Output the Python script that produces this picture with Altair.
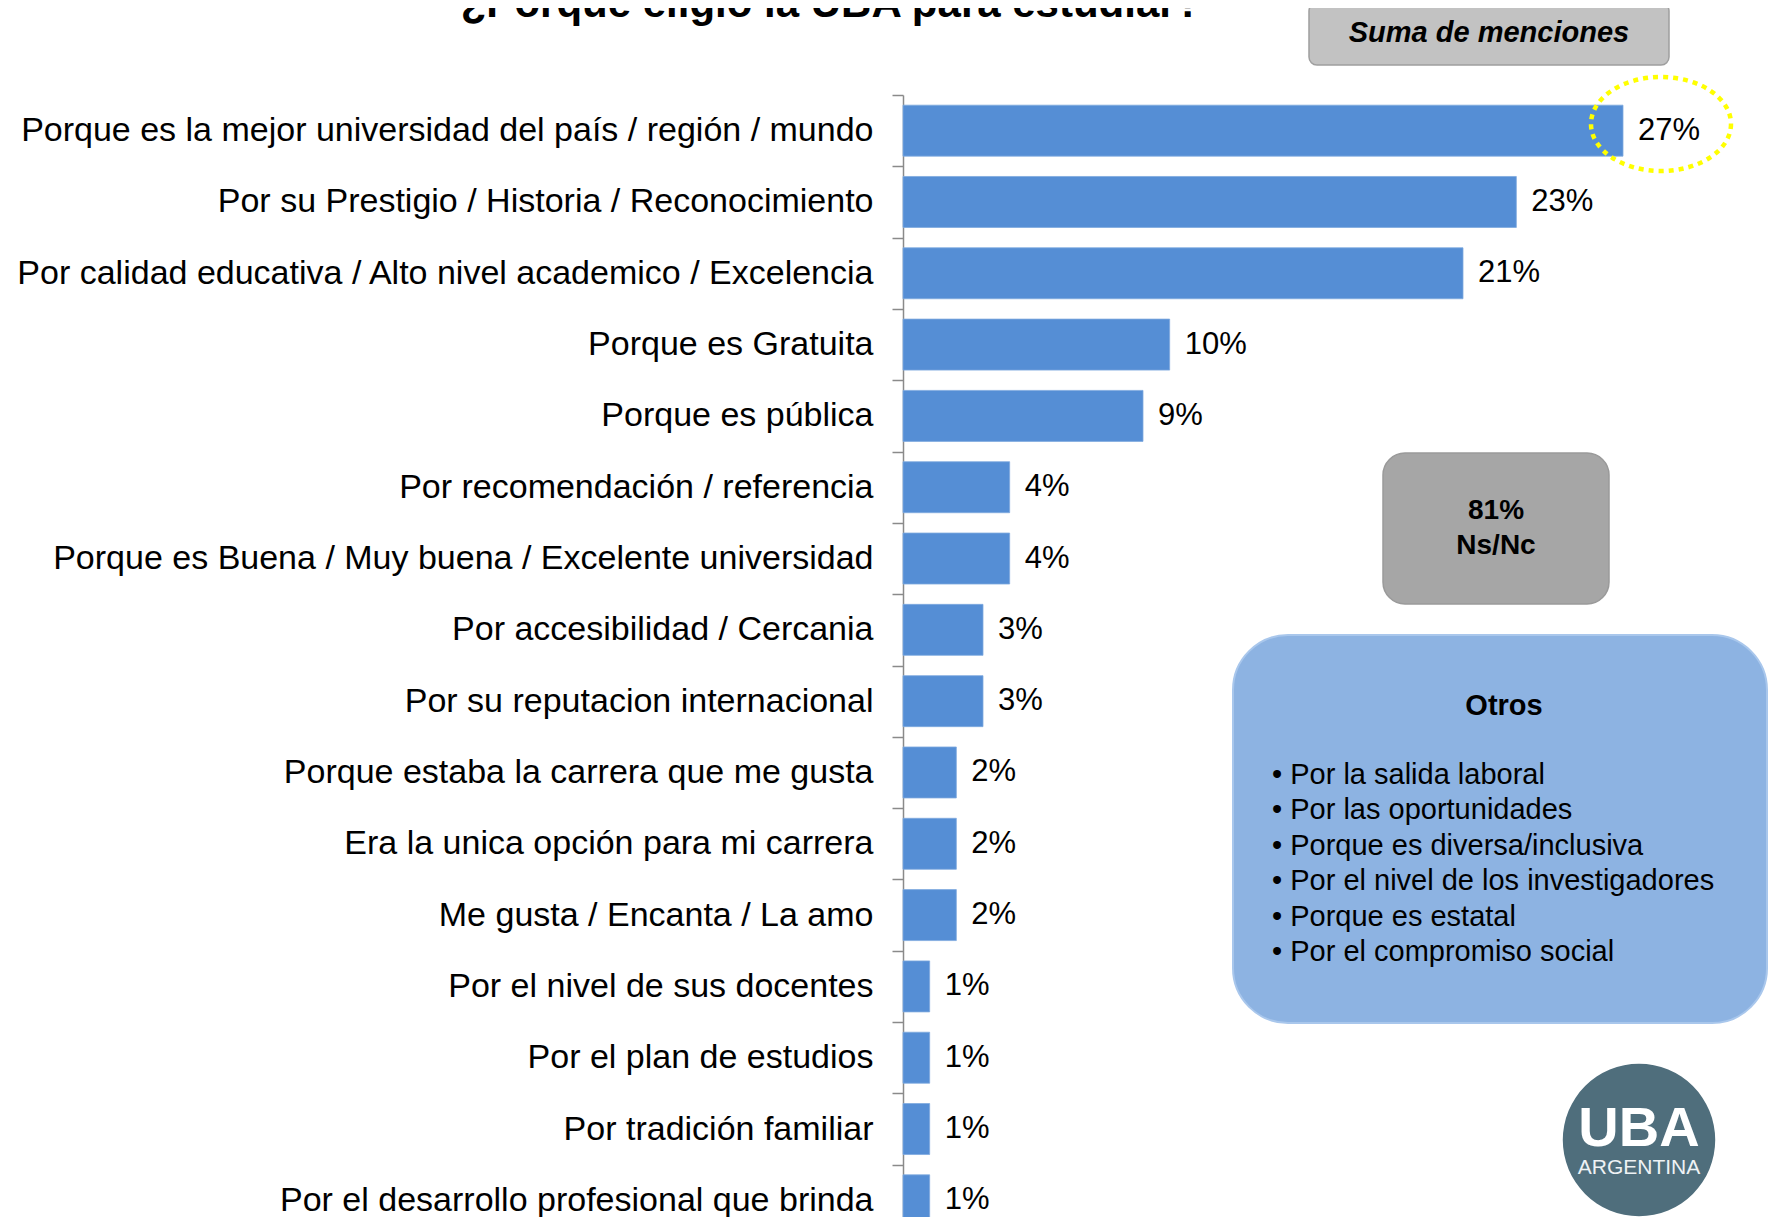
import altair as alt
import pandas as pd

categories = [
    "Porque es la mejor universidad del país / región / mundo",
    "Por su Prestigio / Historia / Reconocimiento",
    "Por calidad educativa / Alto nivel academico / Excelencia",
    "Porque es Gratuita",
    "Porque es pública",
    "Por recomendación / referencia",
    "Porque es Buena / Muy buena / Excelente universidad",
    "Por accesibilidad / Cercania",
    "Por su reputacion internacional",
    "Porque estaba la carrera que me gusta",
    "Era la unica opción para mi carrera",
    "Me gusta / Encanta / La amo",
    "Por el nivel de sus docentes",
    "Por el plan de estudios",
    "Por tradición familiar",
    "Por el desarrollo profesional que brinda",
]
values = [27, 23, 21, 10, 9, 4, 4, 3, 3, 2, 2, 2, 1, 1, 1, 1]

title_text = "¿Porque eligio la UBA para estudiar?"
badge_text = "Suma de menciones"
nsnc_lines = ["81%", "Ns/Nc"]
otros_title = "Otros"
otros_items = [
    "Por la salida laboral",
    "Por las oportunidades",
    "Porque es diversa/inclusiva",
    "Por el nivel de los investigadores",
    "Porque es estatal",
    "Por el compromiso social",
]

df = pd.DataFrame({"cat": categories, "value": values})
one = alt.Data(values=[{"k": 1}])

FONT = "Liberation Sans"
BAR = "#558ED5"
STEP = 1141 / 16

base = alt.Chart(df).transform_calculate(label="datum.value + '%'")

y_axis = alt.Axis(
    title=None,
    labelFont=FONT,
    labelFontSize=34,
    labelColor="#000000",
    labelPadding=19,
    labelLimit=0,
    tickOffset=-STEP / 2,
    labelOffset=STEP / 2,
    tickSize=11,
    tickColor="#8a8a8a",
    tickWidth=1.5,
    domainColor="#8a8a8a",
    domainWidth=1.5,
    grid=False,
)
y_scale = alt.Scale(range=[0, 1141], paddingInner=0.285, paddingOuter=0.1425)
x_scale = alt.Scale(domain=[0, 32.475], nice=False, zero=True)

bars = base.mark_bar(color=BAR, stroke="#7fa9de", strokeWidth=0.8).encode(
    y=alt.Y("cat:N", sort=categories, scale=y_scale, axis=y_axis),
    x=alt.X("value:Q", scale=x_scale, axis=None),
)
labels = base.mark_text(
    align="left", baseline="middle", dx=15, font=FONT, fontSize=31, color="#000000"
).encode(
    y=alt.Y("cat:N", sort=categories, scale=y_scale, axis=y_axis),
    x=alt.X("value:Q", scale=x_scale, axis=None),
    text="label:N",
)

# decorations (pixel positions relative to plot origin)
title = alt.Chart(one).mark_text(
    text=title_text, font=FONT, fontSize=42, fontWeight="bold", align="center",
    baseline="alphabetic", color="#000000",
).encode(x=alt.value(-72), y=alt.value(-78))

badge = alt.Chart(one).mark_rect(
    fill="#c2c2c2", stroke="#9f9f9f", strokeWidth=1.5, cornerRadius=8
).encode(x=alt.value(406), x2=alt.value(766), y=alt.value(-92), y2=alt.value(-30))
badge_t = alt.Chart(one).mark_text(
    text=badge_text, font=FONT, fontSize=29, fontWeight="bold", fontStyle="italic",
    align="center", baseline="middle", color="#000000",
).encode(x=alt.value(586), y=alt.value(-62))

k = 47 / 70
c = 0.5523
ell = (
    f"M 1 0 C 1 {c*k:.4f} {c:.4f} {k:.4f} 0 {k:.4f} "
    f"C {-c:.4f} {k:.4f} -1 {c*k:.4f} -1 0 "
    f"C -1 {-c*k:.4f} {-c:.4f} {-k:.4f} 0 {-k:.4f} "
    f"C {c:.4f} {-k:.4f} 1 {-c*k:.4f} 1 0 Z"
)
ellipse = alt.Chart(one).mark_point(
    shape=ell, size=140 * 140, filled=False, stroke="#ffff00", strokeWidth=4.5,
    strokeDash=[5, 5], opacity=1,
).encode(x=alt.value(758), y=alt.value(29))

nsnc_box = alt.Chart(one).mark_rect(
    fill="#a6a6a6", stroke="#9a9a9a", strokeWidth=1.5, cornerRadius=22
).encode(x=alt.value(480), x2=alt.value(706), y=alt.value(358), y2=alt.value(509))
nsnc_t = alt.Chart(one).mark_text(
    text="\n".join(nsnc_lines), lineBreak="\n", lineHeight=35, font=FONT, fontSize=28,
    fontWeight="bold", align="center", baseline="middle", color="#000000",
).encode(x=alt.value(593), y=alt.value(416))

otros_box = alt.Chart(one).mark_rect(
    fill="#8db3e2", stroke="#a9c7ec", strokeWidth=2, cornerRadius=55
).encode(x=alt.value(330), x2=alt.value(864), y=alt.value(540), y2=alt.value(928))
otros_t = alt.Chart(one).mark_text(
    text=otros_title, font=FONT, fontSize=29, fontWeight="bold", align="center",
    baseline="middle", color="#000000",
).encode(x=alt.value(601), y=alt.value(611))
otros_list = alt.Chart(one).mark_text(
    text="\n".join("• " + s for s in otros_items), lineBreak="\n", lineHeight=35.4,
    font=FONT, fontSize=29, align="left", baseline="middle", color="#000000",
).encode(x=alt.value(369), y=alt.value(680))

logo = alt.Chart(one).mark_point(
    shape="circle", size=23235, filled=True, fill="#4f6e7c", opacity=1, strokeWidth=0,
).encode(x=alt.value(736), y=alt.value(1045))
logo_t1 = alt.Chart(one).mark_text(
    text="UBA", font=FONT, fontSize=56, fontWeight="bold", align="center",
    baseline="middle", color="#ffffff",
).encode(x=alt.value(736), y=alt.value(1034))
logo_t2 = alt.Chart(one).mark_text(
    text="ARGENTINA", font=FONT, fontSize=21, align="center",
    baseline="middle", color="#eef2f4",
).encode(x=alt.value(736), y=alt.value(1073))

chart = alt.layer(
    bars, labels, title, badge, badge_t, ellipse, nsnc_box, nsnc_t,
    otros_box, otros_t, otros_list, logo, logo_t1, logo_t2,
).properties(
    width=866, height=1122,
    autosize=alt.AutoSizeParams(type="none"),
    padding={"left": 895, "top": 87, "right": 0, "bottom": 0},
).configure(background="#ffffff").configure_view(strokeWidth=0, stroke="transparent")

chart.save("out.html", embed_options={"renderer": "svg", "actions": False})
